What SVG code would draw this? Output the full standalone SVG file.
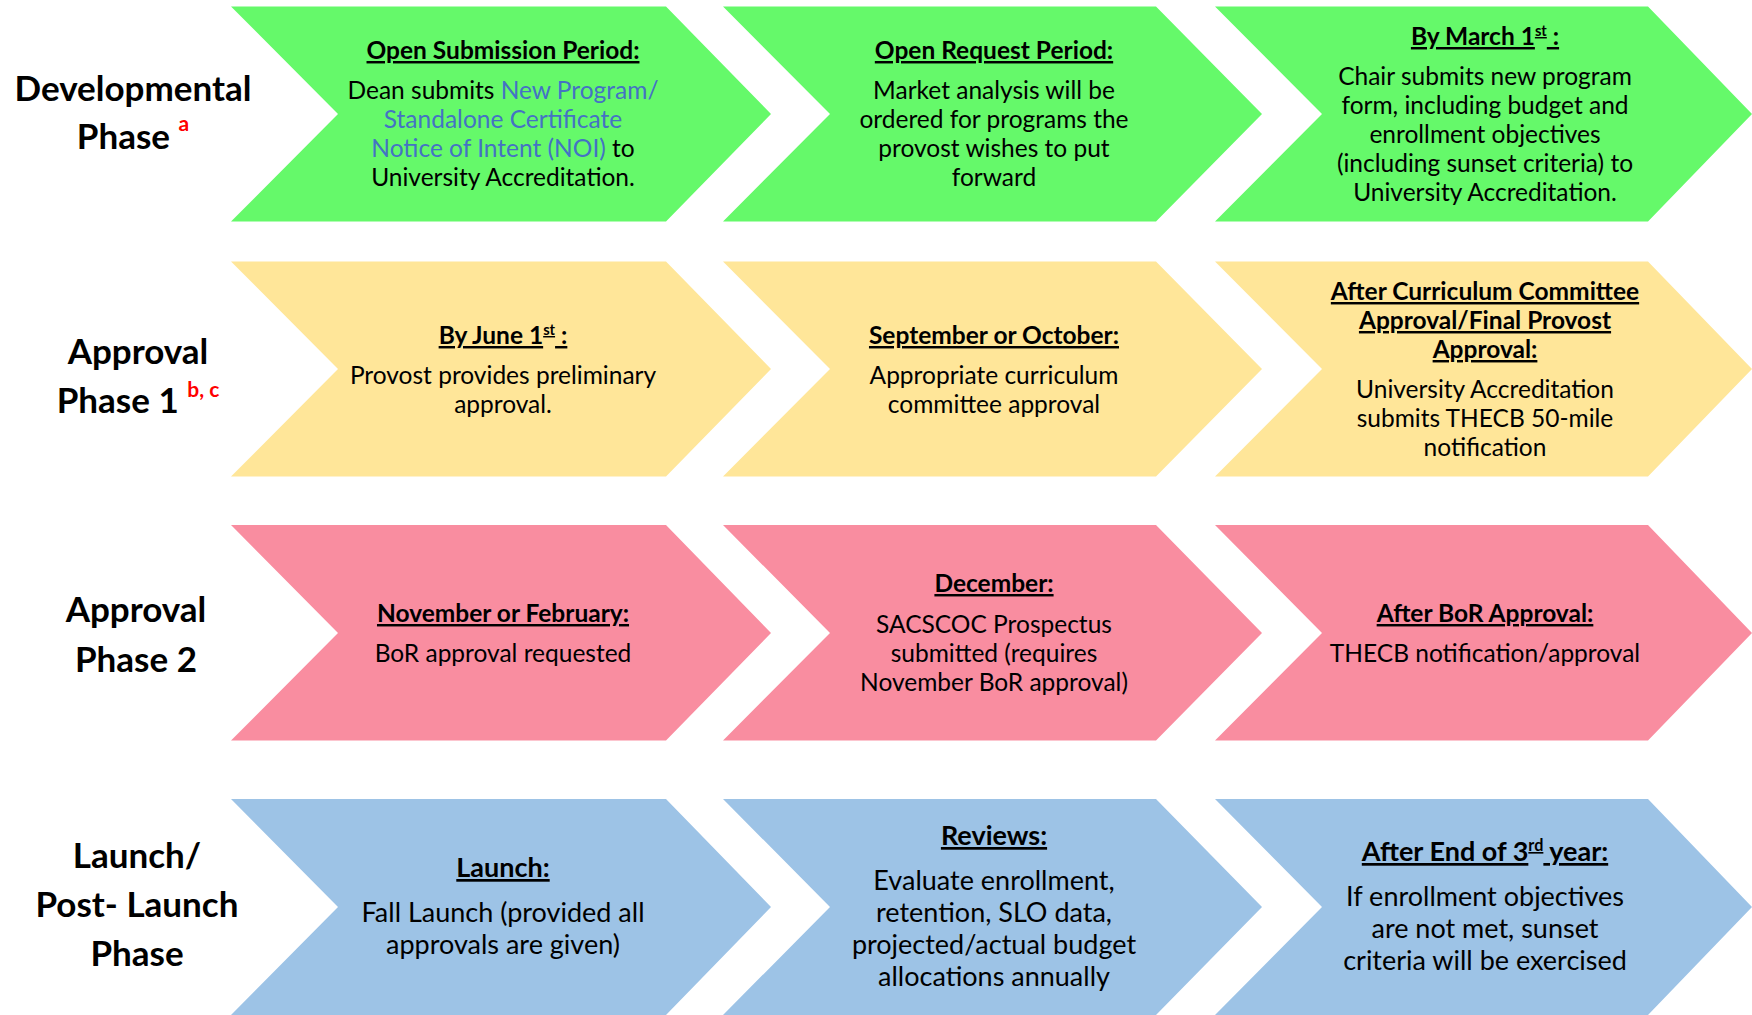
<svg xmlns="http://www.w3.org/2000/svg" width="1752" height="1015" viewBox="0 0 1752 1015">
<style>
text{font-family:Lato,"Noto Sans",sans-serif;text-anchor:middle;fill:#000}
.b{font-size:24.5px}
.h{font-size:24.5px;font-weight:bold;text-decoration:underline}
.b4{font-size:27px}
.h4{font-size:27px;font-weight:bold;text-decoration:underline}
.lab{font-size:35px;font-weight:bold}
.sup{font-size:60%}
.red{fill:#FF0000}
.blue{fill:#4472C4}
.g{fill:#65F96A}
.y{fill:#FFE699}
.p{fill:#F98DA0}
.bl{fill:#9DC3E6}
</style>
<rect width="1752" height="1015" fill="#fff"/>
<g id="labels">
<g id="label-dev">
<text class="lab" x="133" y="101">Developmental</text>
<text class="lab" x="133" y="149">Phase <tspan class="red sup" dy="-18">a</tspan></text>
</g>
<g id="label-ap1">
<text class="lab" x="138" y="364">Approval</text>
<text class="lab" x="138" y="413">Phase 1 <tspan class="red sup" dy="-16">b, c</tspan></text>
</g>
<g id="label-ap2">
<text class="lab" x="136" y="622">Approval</text>
<text class="lab" x="136" y="672">Phase 2</text>
</g>
<g id="label-launch">
<text class="lab" x="137" y="868">Launch/</text>
<text class="lab" x="137" y="917">Post- Launch</text>
<text class="lab" x="137" y="966">Phase</text>
</g>
</g>
<g id="connectors"></g>
<g id="row1">
<g id="r1c1">
<polygon class="g" points="231,6.5 666,6.5 771,114 666,221.5 231,221.5 338,114"/>
<text class="h" x="503" y="59">Open Submission Period:</text>
<text class="b" x="503" y="99">Dean submits <tspan class="blue">New Program/</tspan></text>
<text class="b blue" x="503" y="128">Standalone Certificate</text>
<text class="b" x="503" y="157"><tspan class="blue">Notice of Intent (NOI)</tspan> to</text>
<text class="b" x="503" y="186">University Accreditation.</text>
</g>
<g id="r1c2">
<polygon class="g" points="723,6.5 1156,6.5 1262,114 1156,221.5 723,221.5 830,114"/>
<text class="h" x="994" y="59">Open Request Period:</text>
<text class="b" x="994" y="99">Market analysis will be</text>
<text class="b" x="994" y="128">ordered for programs the</text>
<text class="b" x="994" y="157">provost wishes to put</text>
<text class="b" x="994" y="186">forward</text>
</g>
<g id="r1c3">
<polygon class="g" points="1215,6.5 1648,6.5 1752,114 1648,221.5 1215,221.5 1322,114"/>
<text class="h" x="1485" y="45">By March 1<tspan class="sup" dy="-9">st</tspan><tspan dy="9"> :</tspan></text>
<text class="b" x="1485" y="85">Chair submits new program</text>
<text class="b" x="1485" y="114">form, including budget and</text>
<text class="b" x="1485" y="143">enrollment objectives</text>
<text class="b" x="1485" y="172">(including sunset criteria) to</text>
<text class="b" x="1485" y="201">University Accreditation.</text>
</g>
</g>
<g id="row2">
<g id="r2c1">
<polygon class="y" points="231,261.5 666,261.5 771,369 666,476.5 231,476.5 338,369"/>
<text class="h" x="503" y="344">By June 1<tspan class="sup" dy="-9">st</tspan><tspan dy="9"> :</tspan></text>
<text class="b" x="503" y="384">Provost provides preliminary</text>
<text class="b" x="503" y="413">approval.</text>
</g>
<g id="r2c2">
<polygon class="y" points="723,261.5 1156,261.5 1262,369 1156,476.5 723,476.5 830,369"/>
<text class="h" x="994" y="344">September or October:</text>
<text class="b" x="994" y="384">Appropriate curriculum</text>
<text class="b" x="994" y="413">committee approval</text>
</g>
<g id="r2c3">
<polygon class="y" points="1215,261.5 1648,261.5 1752,369 1648,476.5 1215,476.5 1322,369"/>
<text class="h" x="1485" y="300">After Curriculum Committee</text>
<text class="h" x="1485" y="329">Approval/Final Provost</text>
<text class="h" x="1485" y="358">Approval:</text>
<text class="b" x="1485" y="398">University Accreditation</text>
<text class="b" x="1485" y="427">submits THECB 50-mile</text>
<text class="b" x="1485" y="456">notification</text>
</g>
</g>
<g id="row3">
<g id="r3c1">
<polygon class="p" points="231,525 666,525 771,633 666,740.5 231,740.5 338,633"/>
<text class="h" x="503" y="622">November or February:</text>
<text class="b" x="503" y="662">BoR approval requested</text>
</g>
<g id="r3c2">
<polygon class="p" points="723,525 1156,525 1262,633 1156,740.5 723,740.5 830,633"/>
<text class="h" x="994" y="592">December:</text>
<text class="b" x="994" y="633">SACSCOC Prospectus</text>
<text class="b" x="994" y="662">submitted (requires</text>
<text class="b" x="994" y="691">November BoR approval)</text>
</g>
<g id="r3c3">
<polygon class="p" points="1215,525 1648,525 1752,633 1648,740.5 1215,740.5 1322,633"/>
<text class="h" x="1485" y="622">After BoR Approval:</text>
<text class="b" x="1485" y="662">THECB notification/approval</text>
</g>
</g>
<g id="row4">
<g id="r4c1">
<polygon class="bl" points="231,799 666,799 771,907 666,1015 231,1015 338,907"/>
<text class="h4" x="503" y="877">Launch:</text>
<text class="b4" x="503" y="922">Fall Launch (provided all</text>
<text class="b4" x="503" y="954">approvals are given)</text>
</g>
<g id="r4c2">
<polygon class="bl" points="723,799 1156,799 1262,907 1156,1015 723,1015 830,907"/>
<text class="h4" x="994" y="845">Reviews:</text>
<text class="b4" x="994" y="890">Evaluate enrollment,</text>
<text class="b4" x="994" y="922">retention, SLO data,</text>
<text class="b4" x="994" y="954">projected/actual budget</text>
<text class="b4" x="994" y="986">allocations annually</text>
</g>
<g id="r4c3">
<polygon class="bl" points="1215,799 1648,799 1752,907 1648,1015 1215,1015 1322,907"/>
<text class="h4" x="1485" y="861">After End of 3<tspan class="sup" dy="-10">rd</tspan><tspan dy="10"> year:</tspan></text>
<text class="b4" x="1485" y="906">If enrollment objectives</text>
<text class="b4" x="1485" y="938">are not met, sunset</text>
<text class="b4" x="1485" y="970">criteria will be exercised</text>
</g>
</g>
</svg>
